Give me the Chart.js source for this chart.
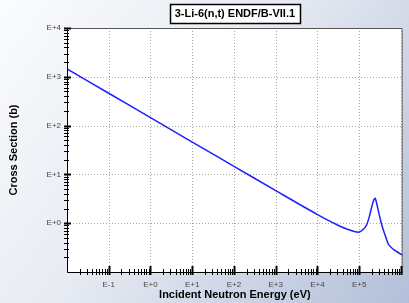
<!DOCTYPE html>
<html>
<head>
<meta charset="utf-8">
<script src="https://cdn.jsdelivr.net/npm/chart.js@4"></script>
<style>
  html, body { margin: 0; padding: 0; }
  #wrap { width: 409px; height: 303px; }
</style>
</head>
<body>
<div id="wrap"><canvas id="xsChart"></canvas></div>
<script>
const chartTitle = "3-Li-6(n,t) ENDF/B-VII.1";

// incident energy (eV) and cross section (b)
const energies = [0.01, 0.1, 1, 10, 100, 1000, 1e4, 3e4, 5e4, 8e4, 1e5, 1.25e5, 1.5e5, 1.75e5, 2e5, 2.2e5, 2.4e5, 2.6e5, 3e5, 3.5e5, 4e5, 5e5, 6.3e5, 8e5, 1.1e6];
const crossSections = [1450, 460, 146, 46, 14.6, 4.65, 1.5, 0.92, 0.76, 0.67, 0.66, 0.75, 0.92, 1.38, 2.2, 2.9, 3.25, 2.6, 1.5, 0.9, 0.63, 0.37, 0.3, 0.26, 0.22];

const xTickValues = [0.01, 0.1, 1, 10, 100, 1000, 1e4, 1e5, 1e6];
const xTickLabels = ["", "E-1", "E+0", "E+1", "E+2", "E+3", "E+4", "E+5", ""];
const yTickValues = [0.1, 1, 10, 100, 1000, 1e4];
const yTickLabels = ["", "E+0", "E+1", "E+2", "E+3", "E+4"];

const ctx = document.getElementById("xsChart").getContext("2d");

function minorValues(scale) {
  const out = [];
  for (let d = Math.floor(Math.log10(scale.min)); d <= Math.ceil(Math.log10(scale.max)); d++) {
    for (let m = 1; m < 10; m++) {
      const v = m * Math.pow(10, d);
      if (v >= scale.min * 0.999 && v <= scale.max * 1.001) out.push({ v, major: m === 1 });
    }
  }
  return out;
}

const decor = {
  id: "decor",
  beforeDraw(chart) {
    const c = chart.ctx;
    const { width, height, chartArea: a } = chart;
    const g = c.createLinearGradient(0, 0, width, height);
    g.addColorStop(0, "#fbfcfd");
    g.addColorStop(0.45, "#e6eaf2");
    g.addColorStop(1, "#b3bfd9");
    c.save();
    c.fillStyle = g;
    c.fillRect(0, 0, width, height);
    c.fillStyle = "#ffffff";
    c.fillRect(a.left, a.top, a.right - a.left, a.bottom - a.top);

    // dotted decade grid
    const x = chart.scales.x, y = chart.scales.y;
    c.strokeStyle = "#a8a8a8";
    c.lineWidth = 1;
    c.setLineDash([1, 2]);
    xTickValues.forEach(v => {
      const px = Math.round(x.getPixelForValue(v)) + 0.5;
      if (px <= a.left + 1 || px >= a.right - 1) return;
      c.beginPath(); c.moveTo(px, a.top); c.lineTo(px, a.bottom); c.stroke();
    });
    yTickValues.forEach(v => {
      const py = Math.round(y.getPixelForValue(v)) + 0.5;
      if (py <= a.top + 1 || py >= a.bottom - 1) return;
      c.beginPath(); c.moveTo(a.left, py); c.lineTo(a.right, py); c.stroke();
    });
    c.restore();
  },
  afterDraw(chart) {
    const c = chart.ctx;
    const a = chart.chartArea;
    const x = chart.scales.x, y = chart.scales.y;
    c.save();
    c.setLineDash([]);
    // frame
    c.strokeStyle = "#555555";
    c.lineWidth = 1;
    c.beginPath();
    c.moveTo(a.left, a.top + 0.5); c.lineTo(a.right - 0.5, a.top + 0.5); c.lineTo(a.right - 0.5, a.bottom);
    c.stroke();
    c.strokeStyle = "#000000";
    c.beginPath();
    c.moveTo(a.left + 0.5, a.top); c.lineTo(a.left + 0.5, a.bottom + 0.5); c.lineTo(a.right, a.bottom + 0.5);
    c.stroke();

    // minor / major ticks on x axis
    minorValues(x).forEach(t => {
      const px = Math.round(x.getPixelForValue(t.v)) + 0.5;
      if (px < a.left + 2 || px > a.right - 1) return;
      c.lineWidth = t.major ? 2 : 1;
      c.beginPath();
      c.moveTo(px, a.bottom - (t.major ? 6 : 3));
      c.lineTo(px, a.bottom + 3);
      c.stroke();
    });
    // minor / major ticks on y axis
    minorValues(y).forEach(t => {
      const py = Math.round(y.getPixelForValue(t.v)) + 0.5;
      if (py > a.bottom - 2) return;
      c.lineWidth = t.major ? 2 : 1;
      c.beginPath();
      c.moveTo(a.left - 3, py);
      c.lineTo(a.left + (t.major ? 4 : 2), py);
      c.stroke();
    });

    // boxed title
    c.font = "bold 11px 'Liberation Sans', Arial, sans-serif";
    c.textAlign = "center";
    c.textBaseline = "middle";
    const cx = (a.left + a.right) / 2;
    const tw = c.measureText(chartTitle).width;
    c.fillStyle = "#ffffff";
    c.fillRect(cx - tw / 2 - 5, 4, tw + 10, 19);
    c.lineWidth = 1.5;
    c.strokeStyle = "#000000";
    c.strokeRect(Math.round(cx - tw / 2 - 5) + 0.5, 4.5, Math.round(tw + 10), 19);
    c.fillStyle = "#000000";
    c.fillText(chartTitle, cx, 14);
    c.restore();
  }
};

new Chart(ctx, {
  type: "scatter",
  data: {
    datasets: [
      {
        label: chartTitle,
        data: energies.map((e, i) => ({ x: e, y: crossSections[i] })),
        showLine: true,
        borderColor: "#1f1fff",
        borderWidth: 1.5,
        pointRadius: 0,
        tension: 0.25,
        fill: false,
      },
    ],
  },
  options: {
    responsive: true,
    maintainAspectRatio: false,
    animation: false,
    layout: { padding: { top: 28, right: 2, left: 0, bottom: 0 } },
    plugins: {
      legend: { display: false },
      tooltip: { enabled: false },
    },
    scales: {
      x: {
        type: "logarithmic",
        min: 0.01,
        max: 1.1e6,
        grid: { display: false, drawTicks: false },
        border: { display: false },
        afterBuildTicks: scale => { scale.ticks = xTickValues.map(v => ({ value: v })); },
        afterFit: scale => { scale.height = 31; },
        ticks: {
          autoSkip: false,
          maxRotation: 0,
          padding: 8,
          color: "#444444",
          font: { family: "'Liberation Sans', Arial, sans-serif", size: 8 },
          callback: v => xTickLabels[xTickValues.indexOf(v)] ?? "",
        },
        title: {
          display: true,
          text: "Incident Neutron Energy (eV)",
          color: "#000000",
          font: { family: "'Liberation Sans', Arial, sans-serif", size: 11, weight: "bold" },
          padding: { top: 0, bottom: 1 },
        },
      },
      y: {
        type: "logarithmic",
        min: 0.1,
        max: 1e4,
        grid: { display: false, drawTicks: false },
        border: { display: false },
        afterBuildTicks: scale => { scale.ticks = yTickValues.map(v => ({ value: v })); },
        afterFit: scale => { scale.width = 67; },
        ticks: {
          autoSkip: false,
          padding: 6,
          color: "#444444",
          font: { family: "'Liberation Sans', Arial, sans-serif", size: 8 },
          callback: v => yTickLabels[yTickValues.indexOf(v)] ?? "",
        },
        title: {
          display: true,
          text: "Cross Section (b)",
          color: "#000000",
          font: { family: "'Liberation Sans', Arial, sans-serif", size: 11, weight: "bold" },
          padding: { top: 7, bottom: 0 },
        },
      },
    },
  },
  plugins: [decor],
});
</script>
</body>
</html>
